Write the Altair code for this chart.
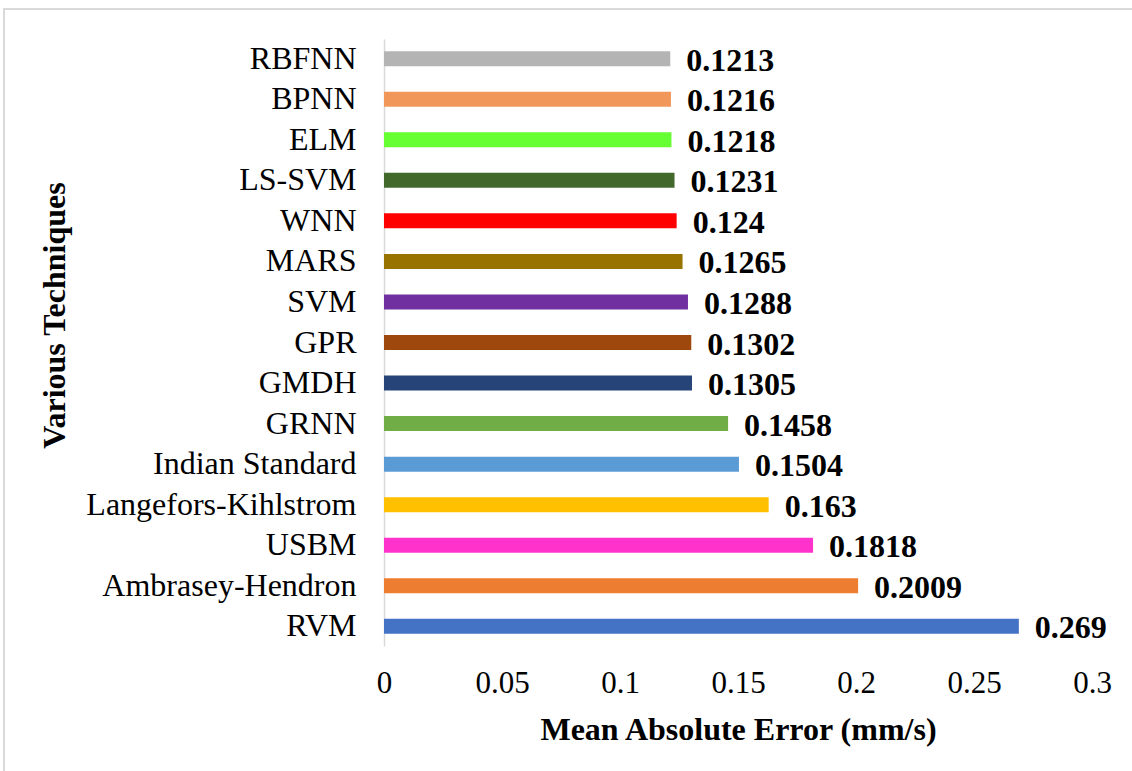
import altair as alt
import pandas as pd

techniques = ["RBFNN", "BPNN", "ELM", "LS-SVM", "WNN", "MARS", "SVM", "GPR", "GMDH",
              "GRNN", "Indian Standard", "Langefors-Kihlstrom", "USBM", "Ambrasey-Hendron", "RVM"]
mae = [0.1213, 0.1216, 0.1218, 0.1231, 0.124, 0.1265, 0.1288, 0.1302, 0.1305,
       0.1458, 0.1504, 0.163, 0.1818, 0.2009, 0.269]
labels = ["0.1213", "0.1216", "0.1218", "0.1231", "0.124", "0.1265", "0.1288", "0.1302", "0.1305",
          "0.1458", "0.1504", "0.163", "0.1818", "0.2009", "0.269"]
colors = ["#B4B4B4", "#F1975A", "#66FF33", "#43682B", "#FF0000", "#997300", "#7030A0", "#9E480E",
          "#264478", "#70AD47", "#5B9BD5", "#FFC000", "#FF33CC", "#ED7D31", "#4472C4"]

df = pd.DataFrame({"Technique": techniques, "MAE": mae, "Label": labels})

FONT = "Liberation Serif"

y_enc = alt.Y("Technique:N", sort=techniques,
              scale=alt.Scale(paddingInner=0.63, paddingOuter=0.3),
              axis=alt.Axis(title="Various Techniques", labelFont=FONT, labelFontSize=32,
                            labelColor="black", labelPadding=28, labelLimit=400, ticks=False,
                            domainColor="#D9D9D9", domainWidth=1.5,
                            titleFont=FONT, titleFontSize=32, titleFontWeight="bold",
                            titleColor="black", titleX=-313, titleY=276,
                            titleAlign="center"))
x_enc = alt.X("MAE:Q", scale=alt.Scale(domain=[0, 0.3], nice=False),
              axis=alt.Axis(title="Mean Absolute Error (mm/s)", values=[0, 0.05, 0.1, 0.15, 0.2, 0.25, 0.3],
                            format="~g", labelFont=FONT, labelFontSize=31, labelColor="black",
                            labelPadding=22, labelFlush=False, ticks=False, domain=False, grid=False,
                            titleFont=FONT, titleFontSize=32, titleFontWeight="bold",
                            titleColor="black", titlePadding=16))

bars = alt.Chart(df).mark_bar().encode(
    x=x_enc, y=y_enc,
    color=alt.Color("Technique:N", scale=alt.Scale(domain=techniques, range=colors), legend=None),
)
text = alt.Chart(df).mark_text(align="left", baseline="middle", dx=16, dy=2, font=FONT,
                               fontSize=32, fontWeight="bold", color="black").encode(
    x="MAE:Q", y=alt.Y("Technique:N", sort=techniques), text="Label:N")

frame = alt.Chart(df).mark_rect(fill=None, stroke="#D9D9D9", strokeWidth=1.5).encode(
    x=alt.value(-380), x2=alt.value(760), y=alt.value(-30), y2=alt.value(780))

chart = alt.layer(frame, bars, text).properties(
    width=708, height=607,
    background="white",
    autosize=alt.AutoSizeParams(type="none"),
    padding={"left": 384, "top": 39, "right": 40, "bottom": 125},
).configure_view(strokeWidth=0, stroke="transparent")

chart.save("out.html", embed_options={"renderer": "svg", "actions": False})
